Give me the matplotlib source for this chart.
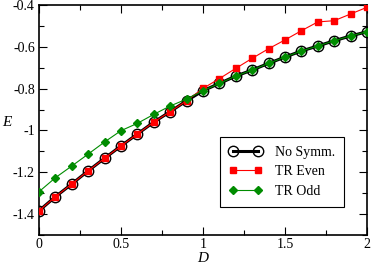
import numpy as np
import matplotlib
matplotlib.use("Agg")
import matplotlib.pyplot as plt
from matplotlib.ticker import MultipleLocator, FuncFormatter

# data
d = [0.0, 0.1, 0.2, 0.3, 0.4, 0.5, 0.6, 0.7, 0.8, 0.9, 1.0,
     1.1, 1.2, 1.3, 1.4, 1.5, 1.6, 1.7, 1.8, 1.9, 2.0]
e_nosymm = [-1.384, -1.317, -1.256, -1.193, -1.133, -1.074, -1.017, -0.960, -0.910, -0.858, -0.810,
            -0.775, -0.740, -0.711, -0.679, -0.649, -0.620, -0.596, -0.571, -0.548, -0.528]
e_even = [-1.384, -1.317, -1.256, -1.193, -1.133, -1.074, -1.017, -0.960, -0.910, -0.858, -0.799,
          -0.752, -0.703, -0.655, -0.609, -0.567, -0.523, -0.481, -0.475, -0.443, -0.411]
e_odd = [-1.293, -1.226, -1.170, -1.113, -1.055, -1.001, -0.966, -0.923, -0.883, -0.850, -0.810,
         -0.775, -0.740, -0.711, -0.679, -0.649, -0.620, -0.596, -0.571, -0.548, -0.528]

plt.rcParams['font.family'] = ['Liberation Serif', 'DejaVu Serif']
plt.rcParams['font.size'] = 10

W, H = 374, 264
fig = plt.figure(figsize=(W / 100, H / 100), dpi=100)
ax = fig.add_axes([39 / W, 1 - 235 / H, 328 / W, 230 / H])

ax.plot(d, e_nosymm, color='black', lw=2.2, marker='o', ms=7.5,
        mfc='none', mec='black', mew=1.0, label='No Symm.', zorder=2)
ax.plot(d, e_even, color='red', lw=0.8, marker='s', ms=5,
        mfc='red', mec='red', label='TR Even', zorder=3)
ax.plot(d, e_odd, color='#008c00', lw=0.8, marker='D', ms=4,
        mfc='#008c00', mec='#008c00', label='TR Odd', zorder=4)

ax.set_xlim(0, 2)
ax.set_ylim(-1.5, -0.4)
ax.xaxis.set_major_locator(MultipleLocator(0.5))
ax.xaxis.set_minor_locator(MultipleLocator(0.25))
ax.yaxis.set_major_locator(MultipleLocator(0.2))
ax.yaxis.set_minor_locator(MultipleLocator(0.1))

def fmt(v, pos):
    return '%g' % round(v, 3)

ax.xaxis.set_major_formatter(FuncFormatter(fmt))
ax.yaxis.set_major_formatter(FuncFormatter(fmt))
ax.tick_params(which='both', direction='in', top=True, right=True, width=0.8)
ax.tick_params(which='major', length=6)
ax.tick_params(axis='x', which='major', pad=2.5)
ax.tick_params(axis='y', which='major', pad=3)
ax.tick_params(which='minor', length=3.5)
for sp in ax.spines.values():
    sp.set_linewidth(1.2)

fig.text(7 / W, 1 - 122 / H, 'E', style='italic', fontsize=11, ha='center', va='center')
fig.text(203 / W, 1 - 262 / H, 'D', style='italic', fontsize=11, ha='center', va='baseline')

leg = ax.legend(loc='upper left', bbox_to_anchor=(220 / W, 1 - 137 / H),
                bbox_transform=fig.transFigure, borderaxespad=0, fancybox=False,
                edgecolor='black', framealpha=1, numpoints=2, handlelength=2.4,
                handletextpad=0.9, fontsize=10, borderpad=0.65, labelspacing=0.45)
leg.get_frame().set_linewidth(0.8)

fig.savefig('out.png', dpi=100)
